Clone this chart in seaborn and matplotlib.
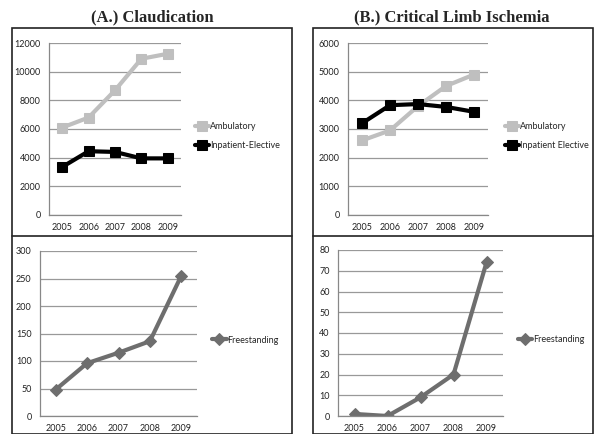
import pandas as pd
import numpy as np
import matplotlib.pyplot as plt
import seaborn as sns
from matplotlib.patches import Rectangle

years = ["2005", "2006", "2007", "2008", "2009"]

# (A.) Claudication
claud_ambulatory = [6100, 6800, 8700, 10900, 11250]
claud_inpatient = [3350, 4450, 4400, 3950, 3950]
claud_freestanding = [48, 96, 115, 136, 255]

# (B.) Critical Limb Ischemia
cli_ambulatory = [2600, 2950, 3800, 4500, 4900]
cli_inpatient = [3200, 3830, 3870, 3770, 3600]
cli_freestanding = [1, 0, 9, 20, 74]

sns.set_style("white")
plt.rcParams['font.family'] = ['Lato', 'DejaVu Sans']

W, H = 594, 434
fig = plt.figure(figsize=(W / 100, H / 100), dpi=100)


def px_axes(x0, y0, x1, y1):
    # pixel box (top-left origin) -> figure axes
    return fig.add_axes([x0 / W, 1 - y1 / H, (x1 - x0) / W, (y1 - y0) / H])


def style_ax(ax, ymax, step):
    ax.set_xlim(-0.5, 4.5)
    ax.set_ylim(0, ymax)
    ax.set_yticks(np.arange(0, ymax + step, step))
    ax.set_xticks(range(5))
    ax.set_xticklabels(years)
    ax.set_xticks(np.arange(-0.5, 5, 1), minor=True)
    ax.tick_params(axis="x", which="major", length=0, labelsize=6.5, pad=6, colors="#222222")
    ax.tick_params(axis="x", which="minor", length=3, color="#888888", direction="out")
    ax.tick_params(axis="y", length=3, color="#888888", labelsize=6.5, pad=3, colors="#222222")
    ax.yaxis.grid(True, color="#999999", linewidth=0.9)
    ax.xaxis.grid(False)
    for s in ["top", "right"]:
        ax.spines[s].set_visible(False)
    for s in ["left", "bottom"]:
        ax.spines[s].set_color("#888888")
        ax.spines[s].set_linewidth(0.9)
    ax.set_xlabel("")
    ax.set_ylabel("")


def draw_pair(ax, amb, inp, inp_label):
    df = pd.DataFrame({"x": range(5), "Ambulatory": amb, inp_label: inp})
    sns.lineplot(data=df, x="x", y="Ambulatory", ax=ax, color="#bfbfbf", linewidth=3,
                 marker="s", markersize=7, markeredgecolor="#bfbfbf", label="Ambulatory")
    sns.lineplot(data=df, x="x", y=inp_label, ax=ax, color="#000000", linewidth=3,
                 marker="s", markersize=7, markeredgecolor="#000000", label=inp_label)


def draw_free(ax, vals):
    df = pd.DataFrame({"x": range(5), "Freestanding": vals})
    sns.lineplot(data=df, x="x", y="Freestanding", ax=ax, color="#6e6e6e", linewidth=3,
                 marker="D", markersize=6, markeredgecolor="#6e6e6e", label="Freestanding")


def put_legend(ax, xoff, yc, spacing=1.15):
    ax.legend(loc="center left", bbox_to_anchor=(1 + xoff, yc), frameon=False, fontsize=6.5,
              handlelength=1.6, handletextpad=0.1, labelspacing=spacing,
              borderpad=0, borderaxespad=0)


# top-left
ax1 = px_axes(49, 43, 181, 215)
draw_pair(ax1, claud_ambulatory, claud_inpatient, "Inpatient-Elective")
style_ax(ax1, 12000, 2000)
put_legend(ax1, 0.106, 0.46)

# top-right
ax2 = px_axes(348, 43, 488, 215)
draw_pair(ax2, cli_ambulatory, cli_inpatient, "Inpatient Elective")
style_ax(ax2, 6000, 1000)
put_legend(ax2, 0.12, 0.46)

# bottom-left
ax3 = px_axes(40, 251, 197, 416)
draw_free(ax3, claud_freestanding)
style_ax(ax3, 300, 50)
put_legend(ax3, 0.096, 0.46)

# bottom-right
ax4 = px_axes(338, 250, 503, 416)
draw_free(ax4, cli_freestanding)
style_ax(ax4, 80, 10)
put_legend(ax4, 0.09, 0.46)

# panel borders
for (x0, x1) in [(12, 292), (313, 593)]:
    fig.add_artist(Rectangle((x0 / W, 0), (x1 - x0) / W, 1 - 28 / H, transform=fig.transFigure,
                             fill=False, edgecolor="#222222", linewidth=1.2))
    fig.add_artist(plt.Line2D([x0 / W, x1 / W], [1 - 236 / H, 1 - 236 / H],
                              transform=fig.transFigure, color="#222222", linewidth=1.2))

fig.text(152 / W, 1 - 17 / H, "(A.) Claudication", ha="center", va="center",
         fontsize=12, fontweight="bold", family="Liberation Serif")
fig.text(452 / W, 1 - 17 / H, "(B.) Critical Limb Ischemia", ha="center", va="center",
         fontsize=12, fontweight="bold", family="Liberation Serif")

fig.savefig("out.png", dpi=100)
